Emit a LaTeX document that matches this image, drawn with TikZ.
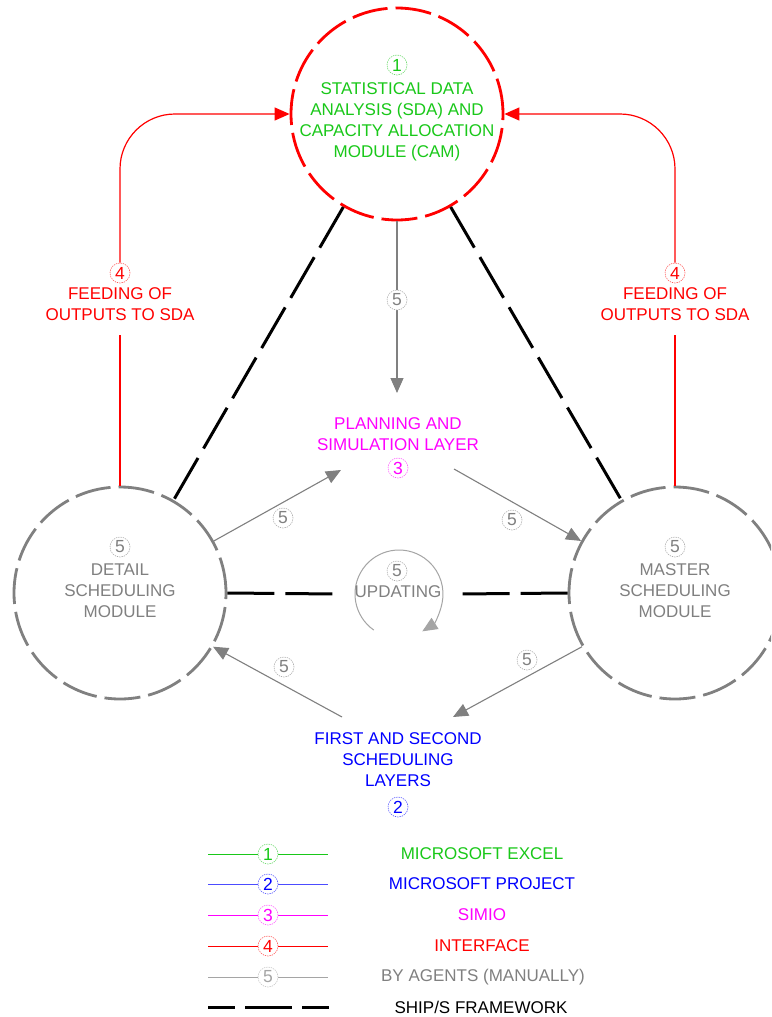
\documentclass[tikz,border=0pt]{standalone}
\usepackage{fontspec}
\setmainfont{Liberation Sans}
\usetikzlibrary{arrows.meta}
\definecolor{cgreen}{RGB}{25,200,25}
\definecolor{cblue}{RGB}{0,0,255}
\definecolor{cmag}{RGB}{255,0,255}
\definecolor{cred}{RGB}{255,0,0}
\definecolor{cgray}{RGB}{128,128,128}
\definecolor{lgray}{RGB}{165,165,165}
\begin{document}
\begin{tikzpicture}[x=1pt,y=1pt,
  txt/.style={font=\fontsize{17}{21}\selectfont, align=center, inner sep=0pt},
  num/.style={circle, draw=#1!65, text=#1, line width=0.6pt, dash pattern=on 1.3pt off 1pt,
     minimum size=20pt, inner sep=0pt, fill=white, font=\fontsize{17.5}{17.5}\selectfont},
  modc/.style={circle, minimum size=212pt, line width=2.8pt, dash pattern=on 36pt off 8pt},
  garrow/.style={draw=cgray, line width=1.1pt, -{Triangle[length=15pt,width=13pt]}},
  rarrow/.style={draw=cred, line width=1.2pt, -{Triangle[length=15pt,width=13pt]}},
  rline/.style={draw=cred, line width=1.2pt},
  frame/.style={line width=3pt, dash pattern=on 47pt off 11pt},
  legline/.style={line width=1pt}]
\clip (0,0) rectangle (771,-1017);
\fill[white] (0,0) rectangle (771,-1017);

% modules
\node[modc, draw=cred] (cam) at (397,-114) {};
\node[modc, draw=cgray] (dsm) at (120,-593) {};
\node[modc, draw=cgray] (msm) at (675,-593) {};

% texts in modules
\node[num=cgreen] (n1) at (397,-65) {1};
\node[txt, text=cgreen] (camtxt) at (397,-122) {STATISTICAL DATA\\ANALYSIS (SDA) AND\\CAPACITY ALLOCATION\\MODULE (CAM)};
\node[num=cgray] (n5d) at (120,-547) {5};
\node[txt, text=cgray] (dsmtxt) at (120,-591) {DETAIL\\SCHEDULING\\MODULE};
\node[num=cgray] (n5m) at (675,-547) {5};
\node[txt, text=cgray] (msmtxt) at (675,-591) {MASTER\\SCHEDULING\\MODULE};

% layers
\node[txt, text=cmag] (plan) at (398,-434) {PLANNING AND\\SIMULATION LAYER};
\node[num=cmag] (n3) at (398,-468) {3};
\node[txt, text=cblue] (sched) at (398,-760) {FIRST AND SECOND\\SCHEDULING\\LAYERS};
\node[num=cblue] (n2) at (398,-807) {2};

% framework lines
\coordinate (hl) at (337,-594);
\coordinate (hr) at (458,-594);
\draw[frame] (cam.240) -- (dsm.60);
\draw[frame] (cam.300) -- (msm.120);
\draw[frame] (dsm.east) -- (hl);
\draw[frame] (msm.west) -- (hr);

% feeding (interface)
\node[num=cred] (n4l) at (120,-273) {4};
\node[txt, text=cred] (feedl) at (120,-304) {FEEDING OF\\OUTPUTS TO SDA};
\coordinate (fl) at (120,-335);
\draw[rline] (dsm.north) -- (fl);
\draw[rarrow, rounded corners=55pt] (n4l.north) |- (cam.west);
\node[num=cred] (n4r) at (675,-273) {4};
\node[txt, text=cred] (feedr) at (675,-304) {FEEDING OF\\OUTPUTS TO SDA};
\coordinate (fr) at (675,-335);
\draw[rline] (msm.north) -- (fr);
\draw[rarrow, rounded corners=55pt] (n4r.north) |- (cam.east);

% manual (agents) arrows
\coordinate (pin) at (397,-393);
\draw[garrow] (cam.south) -- (pin);
\node[num=cgray] (l1) at (397,-300) {5};
\coordinate (pl) at (341,-470);
\draw[garrow] (dsm.29) -- (pl);
\node[num=cgray] (l2) at (283,-518) {5};
\coordinate (pr) at (454,-469);
\draw[garrow] (pr) -- (msm.151);
\node[num=cgray] (l3) at (512,-520) {5};
\coordinate (bl) at (453,-717);
\draw[garrow] (msm.210) -- (bl);
\node[num=cgray] (l4) at (527,-660) {5};
\coordinate (br) at (342,-717);
\draw[garrow] (br) -- (dsm.-30);
\node[num=cgray] (l5) at (284,-667) {5};

% updating loop
\coordinate (uc) at (399,-594);
\draw[draw=lgray, line width=1pt, -{Triangle[length=15pt,width=13pt]}]
  ([shift={(235:44)}]uc) arc[start angle=235, end angle=-58, radius=44];
\node[num=cgray] (l6) at (397,-571) {5};
\node[txt, text=cgray] (upd) at (398,-592) {UPDATING};

% legend
\draw[legline, cgreen] (208,-854) -- (328,-854);
\node[num=cgreen] (g1) at (268,-854) {1};
\node[txt, text=cgreen] (t1) at (482,-854) {MICROSOFT EXCEL};
\draw[legline, cblue!70] (208,-884) -- (328,-884);
\node[num=cblue] (g2) at (268,-884) {2};
\node[txt, text=cblue] (t2) at (482,-884) {MICROSOFT PROJECT};
\draw[legline, cmag] (208,-915) -- (328,-915);
\node[num=cmag] (g3) at (268,-915) {3};
\node[txt, text=cmag] (t3) at (482,-915) {SIMIO};
\draw[legline, cred] (208,-946) -- (328,-946);
\node[num=cred] (g4) at (268,-946) {4};
\node[txt, text=cred] (t4) at (482,-946) {INTERFACE};
\draw[legline, lgray] (208,-977) -- (328,-977);
\node[num=lgray] (g5) at (268,-977) {5};
\node[txt, text=cgray] (t5) at (483,-977) {BY AGENTS (MANUALLY)};
\draw[line width=3pt, dash pattern=on 27pt off 10pt on 47pt off 10pt] (208,-1007) -- (329,-1007);
\node[txt, text=black] (t6) at (481,-1007) {SHIP/S FRAMEWORK};
\end{tikzpicture}
\end{document}
